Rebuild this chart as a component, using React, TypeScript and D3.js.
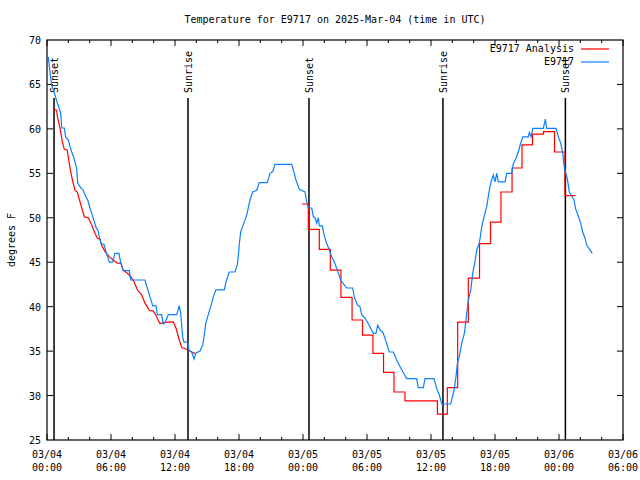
import React from "react";
import * as d3 from "d3";

const TITLE = "Temperature for E9717 on 2025-Mar-04 (time in UTC)";
const Y_LABEL = "degrees F";
const SERIES_NAMES = ["E9717 Analysis", "E9717"];
const SERIES_COLORS = ["#ff0000", "#0a80ff"];

// hours since 03/04 00:00 UTC
const xTickHours = [0, 6, 12, 18, 24, 30, 36, 42, 48, 54];
const xTickDates = ["03/04", "03/04", "03/04", "03/04", "03/05", "03/05", "03/05", "03/05", "03/06", "03/06"];
const xTickTimes = ["00:00", "06:00", "12:00", "18:00", "00:00", "06:00", "12:00", "18:00", "00:00", "06:00"];
const yTicks = [25, 30, 35, 40, 45, 50, 55, 60, 65, 70];

const sunHours = [0.66, 13.22, 24.56, 37.12, 48.6];
const sunLabels = ["Sunset", "Sunrise", "Sunset", "Sunrise", "Sunset"];

// observed (blue)
const obsHours = [
  0.12, 0.28, 0.44, 0.66, 0.82, 0.97, 1.12, 1.28, 1.38, 1.62, 1.75, 2.0, 2.16, 2.32, 2.47, 2.62, 2.78, 2.88, 3.09, 3.4,
  3.56, 3.82, 4.03, 4.25, 4.43, 4.57, 4.81, 4.9, 5.06, 5.34, 5.53, 5.84, 6.16, 6.37, 6.75, 6.91, 7.15, 7.72, 7.85, 9.19,
  9.4, 9.66, 9.91, 10.22, 10.34, 10.75, 10.9, 11.06, 11.37, 12.16, 12.4, 12.53, 12.72, 12.84, 13.19, 13.31, 13.57, 13.78, 13.97, 14.34,
  14.6, 14.72, 14.88, 15.12, 15.44, 15.59, 15.84, 16.62, 16.83, 17.09, 17.62, 17.84, 17.93, 18.03, 18.16, 18.4, 18.72, 19.03, 19.28, 19.66,
  19.9, 20.65, 20.91, 21.16, 21.37, 22.94, 23.09, 23.34, 23.65, 24.19, 24.35, 24.5, 24.82, 24.97, 25.13, 25.28, 25.44, 25.53, 25.81, 25.97,
  26.22, 26.47, 26.69, 26.91, 27.22, 27.53, 27.78, 28.1, 28.66, 28.81, 29.09, 29.34, 29.5, 29.81, 30.12, 30.59, 30.84, 31.0, 31.22, 31.53,
  31.78, 32.09, 32.47, 32.78, 33.25, 33.72, 34.66, 34.81, 35.28, 35.44, 36.28, 36.53, 36.78, 37.0, 37.85, 38.16, 38.34, 38.47, 38.66, 38.88,
  39.13, 39.35, 39.5, 39.73, 39.91, 40.13, 40.29, 40.53, 40.76, 40.97, 41.22, 41.47, 41.63, 41.84, 42.0, 42.16, 42.31, 42.94, 43.1, 43.57,
  43.72, 43.97, 44.18, 44.41, 44.6, 45.12, 45.22, 45.38, 45.54, 46.53, 46.72, 46.85, 47.72, 47.94, 48.16, 48.35, 48.47, 48.59, 48.78, 48.97,
  49.19, 49.41, 49.56, 49.81, 50.03, 50.22, 50.44, 50.6, 50.84, 51.12,
];
const obsTemps = [
  68.1, 66.4, 64.9, 64.2, 63.5, 62.9, 62.4, 61.8, 60.1, 60.1, 59.1, 58.75, 58.0, 57.4, 56.9, 56.3, 55.6, 53.9, 53.5, 53.1,
  52.6, 52.0, 51.1, 50.3, 49.6, 49.0, 48.5, 47.9, 47.1, 47.0, 46.2, 45.0, 45.0, 46.0, 46.0, 44.9, 44.05, 44.05, 43.0, 43.0,
  42.1, 41.1, 40.1, 40.1, 39.1, 39.1, 38.05, 38.2, 39.1, 39.1, 40.1, 39.3, 36.6, 36.0, 36.0, 35.1, 34.9, 34.1, 34.8, 35.0,
  35.7, 36.6, 38.1, 39.1, 40.4, 41.1, 41.9, 41.9, 43.0, 43.9, 43.9, 44.7, 45.6, 47.1, 48.4, 49.2, 50.3, 52.0, 52.9, 53.1,
  53.95, 53.95, 55.0, 55.2, 56.0, 56.0, 55.4, 54.25, 53.2, 52.9, 51.8, 51.1, 51.1, 50.1, 50.0, 49.4, 50.0, 49.1, 49.1, 48.1,
  47.1, 46.4, 45.6, 45.1, 44.1, 43.0, 42.6, 42.1, 42.1, 41.1, 40.2, 40.0, 39.1, 38.7, 38.1, 37.0, 37.0, 37.9, 37.4, 37.0,
  36.1, 34.9, 34.9, 34.0, 32.9, 31.9, 31.9, 30.9, 30.9, 31.9, 31.9, 30.8, 30.1, 29.05, 29.05, 30.6, 32.1, 33.6, 34.4, 35.9,
  37.0, 39.25, 40.75, 41.9, 43.75, 45.1, 46.4, 47.1, 49.0, 50.1, 51.25, 53.1, 54.05, 54.8, 54.05, 55.0, 54.05, 54.05, 55.0, 55.0,
  56.1, 56.7, 57.4, 58.4, 59.1, 59.1, 59.6, 59.1, 60.05, 60.05, 61.1, 60.05, 60.05, 59.1, 58.4, 57.25, 55.9, 55.2, 54.4, 52.9,
  52.45, 52.0, 51.0, 50.2, 49.4, 48.4, 47.7, 46.9, 46.5, 46.0,
];

// analysis (red), first run
const anaHoursA = [
  0.59, 0.91, 0.97, 1.12, 1.28, 1.43, 1.62, 1.9, 2.06, 2.22, 2.41, 2.62, 2.84, 3.0, 3.19, 3.31, 3.5, 3.87, 4.19, 4.5,
  4.72, 4.97, 5.13, 5.44, 5.84, 6.22, 6.59, 6.94, 7.15, 7.53, 7.85, 8.16, 8.47, 8.88, 9.19, 9.59, 9.97, 10.22, 10.59, 10.9,
  11.37, 11.84, 12.09, 12.4, 12.63, 12.94, 13.25, 13.57, 13.87,
];
const anaTempsA = [
  62.2, 62.1, 61.4, 60.6, 59.7, 58.6, 57.7, 57.6, 56.3, 55.2, 54.1, 53.1, 52.9, 52.2, 51.4, 50.9, 50.1, 50.0, 49.2, 48.25,
  47.7, 47.6, 46.9, 46.2, 45.6, 45.25, 44.9, 44.9, 44.1, 43.75, 43.4, 42.8, 41.9, 41.3, 40.4, 39.6, 39.5, 39.0, 38.1, 38.2,
  38.25, 38.3, 37.6, 36.25, 35.4, 35.3, 35.1, 34.9, 34.75,
];
// analysis (red), second run (hourly steps)
const anaHoursB = [
  23.88, 24.5, 25.53, 26.56, 27.56, 28.6, 29.58, 30.56, 31.55, 32.53, 33.56, 36.6, 37.53, 38.5, 39.5, 40.55, 41.58, 42.56, 43.6, 44.53,
  45.52, 46.55, 47.58, 48.56, 49.56,
];
const anaTempsB = [
  51.55, 48.7, 46.45, 44.1, 41.05, 38.5, 36.8, 34.75, 32.6, 30.4, 29.4, 27.9, 30.9, 38.25, 43.2, 47.1, 49.5, 52.9, 55.6, 58.2,
  59.4, 59.7, 57.4, 52.5, 52.5,
];

const W = 640;
const H = 480;
const M = { left: 47, right: 623, top: 40, bottom: 440 };
const FONT = "'DejaVu Sans Mono', monospace";

export default function App() {
  const x = d3.scaleLinear().domain([0, 54]).range([M.left, M.right]);
  const y = d3.scaleLinear().domain([25, 70]).range([M.bottom, M.top]);

  const zip = (hs: number[], ts: number[]) => hs.map((h, i) => [h, ts[i]] as [number, number]);
  const lin = d3.line<[number, number]>().x((d) => x(d[0])).y((d) => y(d[1]));
  const step = d3
    .line<[number, number]>()
    .x((d) => x(d[0]))
    .y((d) => y(d[1]))
    .curve(d3.curveStepAfter);

  const minorTicks = d3.range(0, 54.01, 2).filter((h) => h % 6 !== 0);

  return (
    <svg
      width={W}
      height={H}
      style={{ position: "absolute", left: 0, top: 0, background: "#fff" }}
      fontFamily={FONT}
      fontSize={10}
    >
      <rect x={0} y={0} width={W} height={H} fill="#fff" />
      <text x={335} y={23} textAnchor="middle" fill="#000">
        {TITLE}
      </text>
      <text transform={`translate(15,240) rotate(-90)`} textAnchor="middle" fill="#000">
        {Y_LABEL}
      </text>

      {/* y ticks */}
      {yTicks.map((t) => (
        <g key={"y" + t}>
          {t !== 25 && t !== 70 && (
            <>
              <line x1={M.left} x2={M.left + 6} y1={y(t)} y2={y(t)} stroke="#000" />
              <line x1={M.right} x2={M.right - 6} y1={y(t)} y2={y(t)} stroke="#000" />
            </>
          )}
          <text x={41} y={y(t) + 4} textAnchor="end" fill="#000">
            {t}
          </text>
        </g>
      ))}

      {/* x ticks */}
      {xTickHours.map((h, i) => (
        <g key={"x" + h}>
          <line x1={x(h)} x2={x(h)} y1={M.bottom} y2={M.bottom - 6} stroke="#000" />
          <line x1={x(h)} x2={x(h)} y1={M.top} y2={M.top + 6} stroke="#000" />
          <text x={x(h)} y={458} textAnchor="middle" fill="#000">
            {xTickDates[i]}
          </text>
          <text x={x(h)} y={471} textAnchor="middle" fill="#000">
            {xTickTimes[i]}
          </text>
        </g>
      ))}
      {minorTicks.map((h) => (
        <g key={"m" + h}>
          <line x1={x(h)} x2={x(h)} y1={M.bottom} y2={M.bottom - 3} stroke="#000" />
          <line x1={x(h)} x2={x(h)} y1={M.top} y2={M.top + 3} stroke="#000" />
        </g>
      ))}

      {/* sunrise / sunset */}
      {sunHours.map((h, i) => (
        <g key={"s" + i}>
          <line x1={x(h)} x2={x(h)} y1={98} y2={M.bottom} stroke="#000" strokeWidth={1.5} />
          <text transform={`translate(${x(h) + 4},93) rotate(-90)`} textAnchor="start" fill="#000">
            {sunLabels[i]}
          </text>
        </g>
      ))}

      {/* data */}
      <path d={lin(zip(anaHoursA, anaTempsA)) || ""} fill="none" stroke={SERIES_COLORS[0]} strokeWidth={1.2} />
      <path d={step(zip(anaHoursB, anaTempsB)) || ""} fill="none" stroke={SERIES_COLORS[0]} strokeWidth={1.2} />
      <path d={lin(zip(obsHours, obsTemps)) || ""} fill="none" stroke={SERIES_COLORS[1]} strokeWidth={1.2} />

      {/* frame */}
      <rect
        x={M.left}
        y={M.top}
        width={M.right - M.left}
        height={M.bottom - M.top}
        fill="none"
        stroke="#000"
        strokeWidth={1.2}
      />

      {/* legend */}
      {SERIES_NAMES.map((n, i) => (
        <g key={"l" + i}>
          <text x={574} y={52 + i * 13} textAnchor="end" fill="#000">
            {n}
          </text>
          <line x1={581} x2={609} y1={49 + i * 13} y2={49 + i * 13} stroke={SERIES_COLORS[i]} strokeWidth={1.2} />
        </g>
      ))}
    </svg>
  );
}
